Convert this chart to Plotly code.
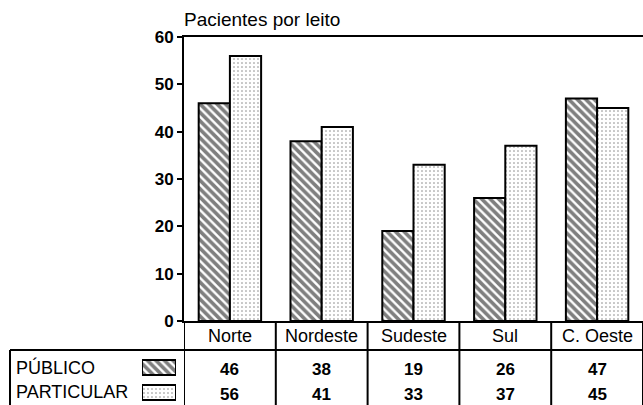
import plotly.graph_objects as go

# Pacientes por leito, por região
regioes = ['Norte', 'Nordeste', 'Sudeste', 'Sul', 'C. Oeste']
publico = [46, 38, 19, 26, 47]
particular = [56, 41, 33, 37, 45]
series_nomes = ['PÚBLICO', 'PARTICULAR']
y_ticks = [0, 10, 20, 30, 40, 50, 60]

W, H = 643, 405
TOP = 37
FONT = 'Liberation Sans'


def py(y_px):
    # pixel row -> paper coordinate (paper spans from TOP to the bottom edge)
    return (H - y_px) / (H - TOP)


hatch = dict(shape='\\', fgcolor='black', bgcolor='white', size=6, solidity=0.6)
dots = dict(shape='.', fgcolor='black', bgcolor='white', size=4, solidity=0.12)

fig = go.Figure()

fig.add_trace(go.Bar(
    x=regioes, y=publico, name=series_nomes[0],
    marker=dict(color='white', pattern=hatch, line=dict(color='black', width=2)),
))
fig.add_trace(go.Bar(
    x=regioes, y=particular, name=series_nomes[1],
    marker=dict(color='white', pattern=dots, line=dict(color='black', width=2)),
))

# legend swatches inside the table
fig.add_trace(go.Bar(
    y=series_nomes[:1], x=[1], orientation='h', xaxis='x2', yaxis='y2', width=0.6,
    marker=dict(color='white', pattern=hatch, line=dict(color='black', width=2)),
))
fig.add_trace(go.Bar(
    y=series_nomes[1:], x=[1], orientation='h', xaxis='x2', yaxis='y2', width=0.6,
    marker=dict(color='white', pattern=dots, line=dict(color='black', width=2)),
))

y_axis_bottom = py(321)

fig.update_layout(
    width=W, height=H, autosize=False,
    margin=dict(l=0, r=0, t=TOP, b=0, autoexpand=False),
    paper_bgcolor='white', plot_bgcolor='white',
    showlegend=False, hovermode=False,
    barmode='group', bargap=0.32, bargroupgap=0,
    font=dict(family=FONT, size=18, color='black'),
    xaxis=dict(
        domain=[184 / W, 1], showticklabels=False, ticks='', automargin=False,
        showline=True, linecolor='black', linewidth=2, mirror=True,
        showgrid=False, range=[-0.5, 4.5],
    ),
    yaxis=dict(
        domain=[y_axis_bottom, 1], range=[0, 60], tickvals=y_ticks, automargin=False,
        showline=True, linecolor='black', linewidth=2,
        ticks='outside', ticklen=5, tickwidth=2, tickcolor='black',
        showgrid=False, zeroline=False,
        tickfont=dict(family=FONT, size=17, color='black', weight='bold'),
    ),
    xaxis2=dict(domain=[142 / W, 176 / W], anchor='y2', range=[0, 1],
                visible=False, automargin=False),
    yaxis2=dict(domain=[0, py(355)], anchor='x2', categoryorder='array',
                categoryarray=series_nomes[::-1], visible=False, automargin=False),
)

# title
fig.add_annotation(
    text='Pacientes por leito', xref='paper', yref='paper',
    x=182 / W, y=py(20), xanchor='left', yanchor='middle', showarrow=False,
    font=dict(size=19),
)

# table: header row and values
for i, reg in enumerate(regioes):
    fig.add_annotation(text=reg, xref='x', yref='paper', x=i, y=py(336),
                       xanchor='center', yanchor='middle',
                       showarrow=False, font=dict(size=18))
    fig.add_annotation(text=str(publico[i]), xref='x', yref='paper', x=i, y=py(369),
                       xanchor='center', yanchor='middle',
                       showarrow=False, font=dict(size=17, weight='bold'))
    fig.add_annotation(text=str(particular[i]), xref='x', yref='paper', x=i, y=py(394),
                       xanchor='center', yanchor='middle',
                       showarrow=False, font=dict(size=17, weight='bold'))

for nome, ypx in zip(series_nomes, [367, 392]):
    fig.add_annotation(text=nome, xref='paper', yref='paper', x=14 / W, y=py(ypx),
                       xanchor='left', yanchor='middle', showarrow=False,
                       font=dict(size=18))

# table grid lines
line = dict(color='black', width=2)
for k in range(len(regioes) + 1):
    fig.add_shape(type='line', xref='x', yref='paper', x0=k - 0.5, x1=k - 0.5,
                  y0=0, y1=y_axis_bottom, line=line)
fig.add_shape(type='line', xref='paper', yref='paper', x0=10 / W, x1=1,
              y0=py(350), y1=py(350), line=line)
fig.add_shape(type='line', xref='paper', yref='paper', x0=10 / W, x1=10 / W,
              y0=0, y1=py(350), line=line)

fig.write_html(
    "out.html",
    config={'displayModeBar': False},
    post_script="document.body.style.margin='0px';document.body.style.overflow='hidden';",
)
